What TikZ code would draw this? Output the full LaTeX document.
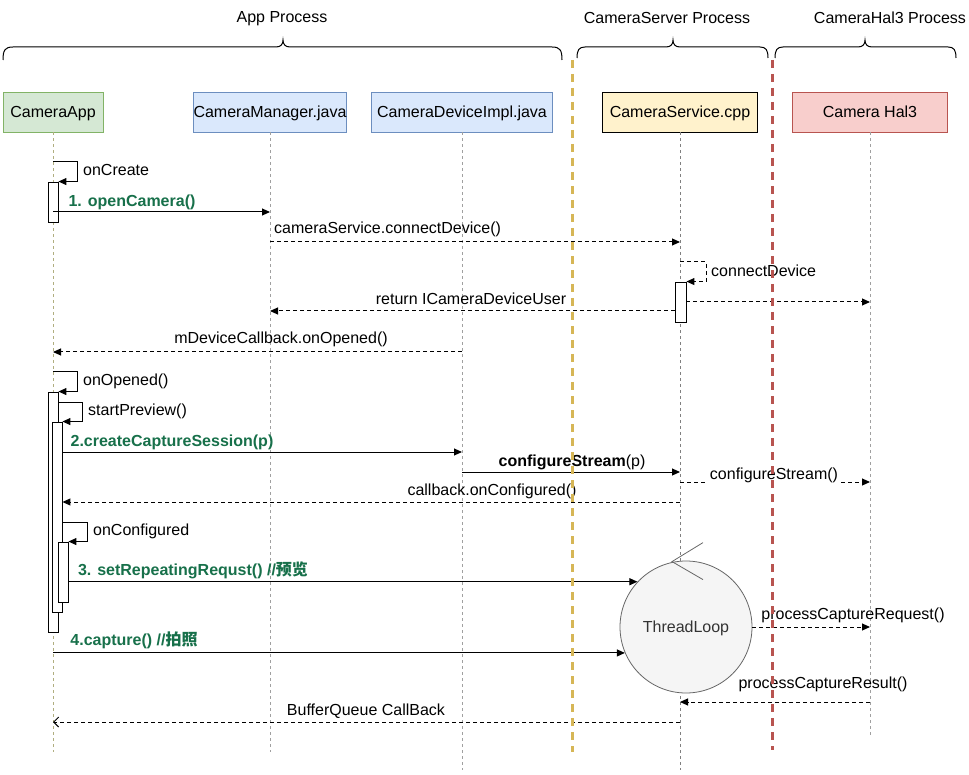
\documentclass[tikz,border=0pt]{standalone}
\usepackage{fontspec}
\setmainfont{Liberation Sans}
\newfontfamily\cjk{Noto Sans CJK SC}
\usetikzlibrary{arrows.meta,shapes.geometric}
\definecolor{grn}{HTML}{17704A}
\definecolor{appfill}{HTML}{D5E8D4}
\definecolor{appline}{HTML}{82B366}
\definecolor{bluefill}{HTML}{DAE8FC}
\definecolor{blueline}{HTML}{6C8EBF}
\definecolor{yelfill}{HTML}{FFF2CC}
\definecolor{redfill}{HTML}{F8CECC}
\definecolor{redline}{HTML}{B85450}
\definecolor{ysep}{HTML}{D6B656}
\definecolor{rsep}{HTML}{B85450}
\definecolor{loopfill}{HTML}{F5F5F5}
\definecolor{loopline}{HTML}{666666}
\definecolor{looptext}{HTML}{333333}
\definecolor{lifegray}{HTML}{A0A0A0}
\definecolor{lifeolive}{HTML}{B0AE80}
\begin{document}
\begin{tikzpicture}[x=1pt,y=-1pt,
  every node/.style={font=\fontsize{16}{19}\selectfont, inner sep=2pt, text height=12pt, text depth=1pt},
  hdr/.style={draw, minimum height=40, inner sep=0, line width=0.8pt},
  life/.style={line width=0.9pt, dash pattern=on 3pt off 3pt},
  act/.style={draw, fill=white, line width=0.9pt, minimum width=10, inner sep=0, text height=0pt, text depth=0pt},
  msg/.style={-{Triangle[length=8pt,width=7pt]}, line width=1pt},
  rmsg/.style={msg, dash pattern=on 4pt off 3pt},
  omsg/.style={-{Straight Barb[length=5pt,width=10pt]}, line width=1pt, dash pattern=on 4pt off 3pt},
  glbl/.style={text=grn, font=\fontsize{16}{19}\selectfont\bfseries},
  sepline/.style={line width=3pt, dash pattern=on 8pt off 6pt},
  brc/.style={line width=1pt}]
\useasboundingbox (0,0) rectangle (969,775);

% process titles and braces
\node (tApp) at (282,17) {App Process};
\node (tSrv) at (667,18) {CameraServer Process};
\node (tHal) at (890,18) {CameraHal3 Process};
\draw[brc] (3,60) .. controls (3,50) and (5,47) .. (13,47) -- (276,47)
  .. controls (281,47) and (283,44) .. (283,40) .. controls (283,44) and (285,47) .. (290,47)
  -- (552,47) .. controls (560,47) and (562,50) .. (562,60);
\draw[brc] (577,58) .. controls (577,50) and (579,47) .. (585,47) -- (666,47)
  .. controls (671,47) and (673,44) .. (673,40) .. controls (673,44) and (675,47) .. (680,47)
  -- (760,47) .. controls (766,47) and (768,50) .. (768,58);
\draw[brc] (775,58) .. controls (775,50) and (777,47) .. (783,47) -- (858,47)
  .. controls (863,47) and (865,44) .. (865,40) .. controls (865,44) and (867,47) .. (872,47)
  -- (948,47) .. controls (954,47) and (956,50) .. (956,58);

% headers
\node[hdr, draw=appline, fill=appfill, minimum width=100] (app) at (53,112) {CameraApp};
\node[hdr, draw=blueline, fill=bluefill, minimum width=153] (mgr) at (270,112) {CameraManager.java};
\node[hdr, draw=blueline, fill=bluefill, minimum width=181] (impl) at (462,112) {CameraDeviceImpl.java};
\node[hdr, draw=black, fill=yelfill, minimum width=155] (svc) at (680,112) {CameraService.cpp};
\node[hdr, draw=redline, fill=redfill, minimum width=155] (hal) at (870,112) {Camera Hal3};

% lifelines
\draw[life, lifeolive] (app.south) -- (app.south |- 0,752);
\draw[life, lifegray] (mgr.south) -- (mgr.south |- 0,752);
\draw[life, lifegray] (impl.south) -- (impl.south |- 0,770);
\draw[life, gray] (svc.south) -- (svc.south |- 0,770);
\draw[life, lifegray] (hal.south) -- (hal.south |- 0,735);

% activations
\node[act, minimum height=40] (a1) at (53,202) {};
\node[act, minimum height=240] (a2) at (53,512) {};
\node[act, minimum height=190] (a3) at (57,517) {};
\node[act, minimum height=60] (a4) at (63,572) {};
\node[act, minimum width=11, minimum height=40] (s1) at (680.5,302) {};

% self calls
\draw[msg] (app |- 0,162) -- ++(24,0) |- (a1.north east);
\node[anchor=west] (lCreate) at (81,170) {onCreate};
\draw[msg] (app |- 0,372) -- ++(24,0) |- (a2.north east);
\node[anchor=west] (lOpened) at (81,380) {onOpened()};
\draw[msg] (a2.east |- 0,402) -- ++(24,0) |- (a3.north east);
\node[anchor=west] (lPrev) at (86,410) {startPreview()};
\draw[msg] (a3.east |- 0,522) -- ++(25,0) |- (a4.north east);
\node[anchor=west] (lConf) at (91,530) {onConfigured};
\draw[rmsg] (svc |- 0,262) -- ++(26,0) |- (s1.north east);
\node[anchor=west] (lConn) at (709,271) {connectDevice};

% messages
\draw[msg] (app |- 0,212) -- (mgr |- 0,212);
\node[glbl] (m1) at (132,201) {1. openCamera()};
\draw[rmsg] (mgr |- 0,242) -- (svc |- 0,242);
\node[anchor=west] (m2) at (272,228) {cameraService.connectDevice()};
\draw[rmsg] (s1.east |- 0,302) -- (hal |- 0,302);
\draw[rmsg] (s1.west |- 0,311) -- (mgr |- 0,311);
\node (m3) at (471,299) {return ICameraDeviceUser};
\draw[rmsg] (impl |- 0,352) -- (app |- 0,352);
\node (m4) at (281,338) {mDeviceCallback.onOpened()};
\draw[msg] (a3.east |- 0,452) -- (impl |- 0,452);
\node[glbl] (m5) at (172,441) {2.createCaptureSession(p)};
\draw[msg] (impl |- 0,472) -- (svc |- 0,472);
\node (m6) at (572,461) {{\bfseries configureStream}(p)};
\draw[rmsg] (svc |- 0,482) -- (hal |- 0,482);
\node[fill=white, inner sep=3pt] (m7) at (774,474) {configureStream()};
\draw[rmsg] (svc |- 0,502) -- (a3.east |- 0,502);
\node (m8) at (492,490) {callback.onConfigured()};

% thread loop
\node[circle, draw=loopline, fill=loopfill, text=looptext, minimum size=132, inner sep=0, line width=0.8pt] (loop) at (686,627) {ThreadLoop};
\draw[loopline, line width=0.8pt] ([shift={(17,-18)}]loop.north) -- ([shift={(-14,1)}]loop.north) -- ([shift={(17,19)}]loop.north);

\draw[msg] (a4.east |- loop.137) -- (loop.137);
\node[glbl] (m9) at (193,570) {3. setRepeatingRequst() //{\cjk 预览}};
\draw[msg] (app |- loop.203) -- (loop.203);
\node[glbl] (m10) at (134,640) {4.capture() //{\cjk 拍照}};
\draw[rmsg] (loop.east) -- (hal |- loop.east);
\node (m11) at (853,614) {processCaptureRequest()};
\draw[rmsg] (hal |- 0,702) -- (svc |- 0,702);
\node (m12) at (823,683) {processCaptureResult()};
\draw[omsg] (svc |- 0,722) -- (app |- 0,722);
\node (m13) at (366,710) {BufferQueue CallBack};

% separators
\draw[sepline, ysep] (572,60) -- (572,752);
\draw[sepline, rsep] (772,60) -- (772,750);
\end{tikzpicture}
\end{document}
